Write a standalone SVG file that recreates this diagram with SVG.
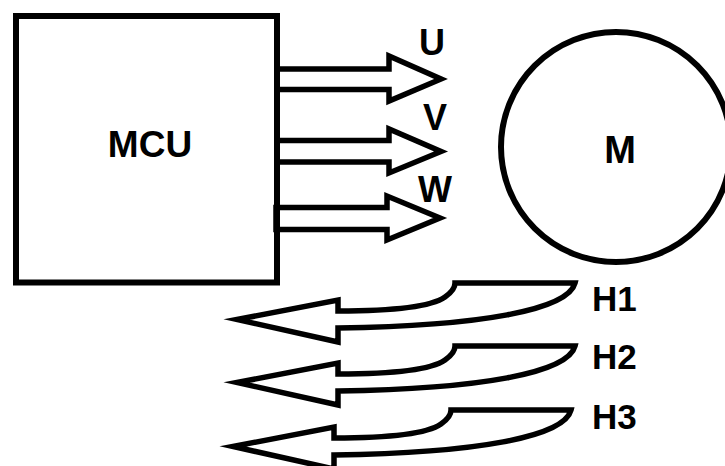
<svg xmlns="http://www.w3.org/2000/svg" width="725" height="466" viewBox="0 0 725 466">
<style>
.shape{fill:#fff;stroke:#000;stroke-width:6}
.arr{fill:#fff;stroke:#000;stroke-width:5.5;stroke-linejoin:miter;stroke-miterlimit:10}
.lbl{font-family:"Liberation Sans",Arial,sans-serif;font-weight:bold;fill:#000}
</style>
<defs>
<path id="harrow" d="M237,319.5 L338,300 V311 C395,311 432,306 445,297 Q455,290 455,283 H575 C568,310 480,326 338,328 V342 Z"/>
</defs>
<rect width="725" height="466" fill="#fff"/>
<g id="connectors">
<path class="arr" d="M277,69 H389 V56 L441,79 L389,101 V89.5 H277"/>
<path class="arr" d="M277,140.5 H389 V129 L441,151.5 L389,173 V162 H277"/>
<path class="arr" d="M276,207.5 H387 V196 L440,218 L387,240 V229.5 H276 Z"/>
<use class="arr" href="#harrow"/>
<use class="arr" href="#harrow" transform="translate(0,63)"/>
<use class="arr" href="#harrow" transform="translate(-4,127)"/>
</g>
<g id="mcu">
<rect class="shape" x="16" y="16" width="261" height="266.5" style="fill:none"/>
<text class="lbl" x="150" y="157" font-size="37" text-anchor="middle">MCU</text>
</g>
<g id="motor">
<circle class="shape" cx="616" cy="147" r="115"/>
<text class="lbl" x="620" y="163" font-size="38" text-anchor="middle">M</text>
</g>
<g id="labels">
<text class="lbl" x="432" y="55" font-size="36" text-anchor="middle">U</text>
<text class="lbl" x="435" y="130" font-size="36" text-anchor="middle">V</text>
<text class="lbl" x="435" y="202" font-size="36" text-anchor="middle">W</text>
<text class="lbl" x="592" y="311" font-size="35">H1</text>
<text class="lbl" x="592" y="369" font-size="35">H2</text>
<text class="lbl" x="592" y="429" font-size="35">H3</text>
</g>
</svg>
